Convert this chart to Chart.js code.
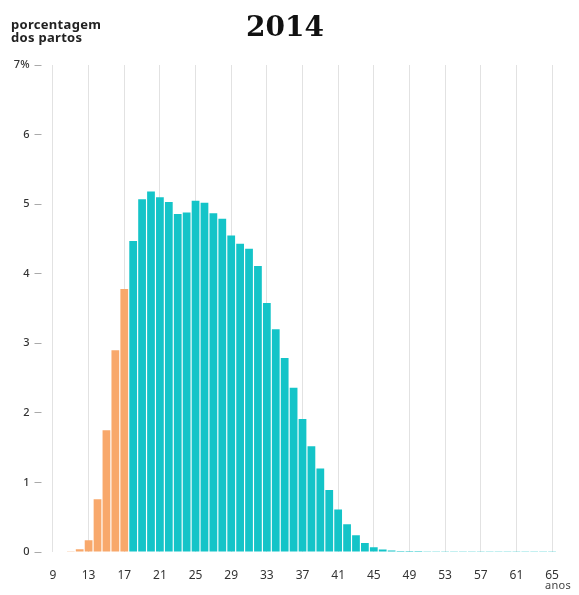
<!DOCTYPE html>
<html>
<head>
<meta charset="utf-8">
<script src="https://cdn.jsdelivr.net/npm/chart.js@4"></script>
<style>
  body { margin: 0; background: #fff; }
  #wrap { position: relative; width: 579px; height: 595px; }
  .txt { position: absolute; font-family: "Noto Sans", sans-serif; color: #222; }
  #title { left: 0; width: 570px; top: 10px; text-align: center; font: bold 28px "DejaVu Serif", serif; color: #111; }
  #ylab { left: 11px; top: 18px; font-size: 13px; font-weight: bold; line-height: 13px; letter-spacing: 0.3px; }
  #xlab { left: 545px; top: 577px; font-size: 11px; color: #444; letter-spacing: 0.3px; }
</style>
</head>
<body>
<div id="wrap">
  <canvas id="grafico" width="579" height="595"></canvas>
  <div class="txt" id="title">2014</div>
  <div class="txt" id="ylab">porcentagem<br>dos partos</div>
  <div class="txt" id="xlab">anos</div>
</div>
<script>
// idade da mae (anos)
let idades = [];
for (let i = 9; i <= 65; i++) idades.push(String(i));

// porcentagem dos partos por idade, 2014
let partos = [
  0.008, 0.008, 0.01, 0.04, 0.17, 0.76, 1.75, 2.9, 3.78,       // 9-17
  4.47, 5.07, 5.18, 5.1, 5.03, 4.86, 4.88, 5.05, 5.02, 4.87,   // 18-27
  4.79, 4.55, 4.43, 4.36, 4.11, 3.58, 3.2, 2.79, 2.36, 1.91,   // 28-37
  1.52, 1.2, 0.89, 0.61, 0.4, 0.24, 0.13, 0.07, 0.035, 0.02,   // 38-47
  0.015, 0.014, 0.013, 0.012, 0.012, 0.012, 0.011, 0.011, 0.011, // 48-56
  0.01, 0.01, 0.01, 0.01, 0.01, 0.01, 0.01, 0.01, 0.01          // 57-65
];

let yTicks = [0, 1, 2, 3, 4, 5, 6, 7];

let corAdolescente = "#f8a86b";
let corAdulta = "#14c4c8";

new Chart(document.getElementById("grafico"), {
  type: "bar",
  data: {
    labels: idades,
    datasets: [{
      data: partos,
      backgroundColor: function (ctx) {
        return Number(idades[ctx.index]) < 18 ? corAdolescente : corAdulta;
      },
      barPercentage: 0.87,
      categoryPercentage: 1
    }]
  },
  options: {
    responsive: false,
    animation: false,
    layout: { padding: { top: 65, right: 22.5, left: 0, bottom: 0 } },
    plugins: { legend: { display: false }, tooltip: { enabled: false } },
    scales: {
      x: {
        offset: true,
        grid: {
          offset: false,
          drawTicks: false,
          color: function (ctx) {
            return ctx.index % 4 === 0 ? "#e2e2e2" : "rgba(0,0,0,0)";
          }
        },
        border: { display: false },
        ticks: {
          autoSkip: false,
          maxRotation: 0,
          padding: 16,
          color: "#333",
          font: { family: "Noto Sans", size: 12 },
          callback: function (v, i) {
            return i % 4 === 0 ? idades[i] : "";
          }
        },
        afterFit: function (scale) { scale.height = 43; }
      },
      y: {
        min: 0,
        max: 7,
        afterBuildTicks: function (scale) {
          scale.ticks = yTicks.map(function (v) { return { value: v }; });
        },
        grid: {
          drawOnChartArea: false,
          drawTicks: true,
          tickLength: 14,
          tickColor: "#aaaaaa",
          tickBorderDash: [7, 20]
        },
        border: { display: false },
        ticks: {
          padding: 5,
          color: "#333",
          font: { family: "Noto Sans", size: 11, weight: "500" },
          callback: function (v) { return v === 7 ? "7%" : String(v); }
        },
        afterFit: function (scale) { scale.width = 48.5; }
      }
    }
  }
});
</script>
</body>
</html>
